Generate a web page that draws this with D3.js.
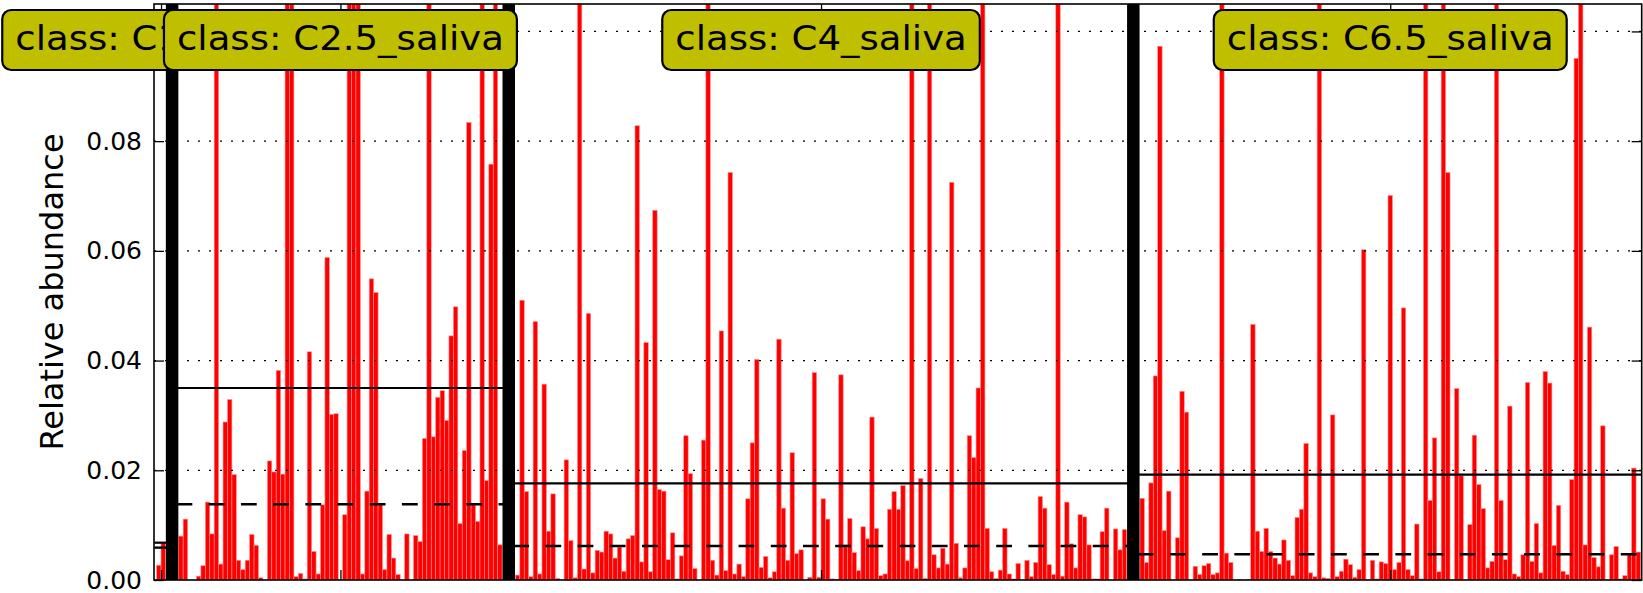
<!DOCTYPE html>
<html><head><meta charset="utf-8">
<script src="https://cdn.jsdelivr.net/npm/d3@7"></script>
<style>body{margin:0;background:#fff}svg{display:block}</style>
</head><body>
<svg id="chart" width="1643" height="593"></svg>
<script>
// ---------------- data ----------------
const classNames = ["C1_saliva", "C2.5_saliva", "C4_saliva", "C6.5_saliva"];
const T = 0.13; // bars that run off the top of the axes (value not readable)
const valuesC1 = [0.0027, 0.0067];
const valuesC25 = [0.0080,0.0111,0,0,0.0007,0.0026,0.0142,0.0084,T,0.0029,
  0.0288,0.0329,0.0192,0.0036,0.0019,0.0036,0.0083,0.0063,0.0004,0,
  0.0217,0.0197,0.0382,0.0193,T,T,0.0006,0.0012,0.0002,0.0416,
  0.0052,0.0011,0.0137,0.0588,0.0302,0.0303,0,0.0119,T,T,
  T,0.0011,0.0162,0.0549,0.0524,0.0137,0.0019,0.0083,0.0040,0.0010,
  0,0.0084,0,0.0081,0.0070,0.0258,T,0.0261,0.0333,0.0345,
  0.0291,0.0445,0.0498,0.0103,0.0236,0.0834,0.0137,0.0107,T,0.0181,
  0.0758,T,0.0064];
const valuesC4 = [0.0009,0.0510,0.0161,0.0006,0.0471,0.0011,0.0357,0.0089,0.0157,0.0003,
  0,0.0219,0.0072,0.0004,T,0.0020,0.0486,0.0013,0.0054,0.0051,
  0.0089,0.0084,0.0040,0.0060,0.0016,0.0075,0.0081,0.0828,0.0033,0.0433,
  0.0015,0.0674,0.0165,0.0162,0.0037,0.0086,0.0002,0.0044,0.0263,0.0194,
  0.0021,0,0.0255,T,0.0036,0.0009,0.0454,0.0017,0.0743,0.0011,
  0.0029,0.0006,0.0148,0.0250,0.0402,0.0023,0.0043,0.0004,0.0015,0.0439,
  0.0131,0.0036,0.0232,0.0048,0.0055,0,0.0005,0.0378,0.0005,0.0148,
  0.0111,0.0002,0.0001,0.0374,0.0064,0.0112,0.0050,0.0017,0.0097,0.0075,
  0.0297,0.0094,0.0008,0.0011,0.0129,0.0161,0.0129,0.0172,0.0035,T,
  0.0021,0.0185,0.0003,T,0.0046,0.0022,0.0058,0.0029,0.0725,0.0067,
  0.0004,0.0022,0.0263,0.0223,0.0350,T,0.0094,0.0015,0.0003,0.0018,
  0.0094,0.0011,0.0002,0.0030,0,0.0036,0.0006,0.0032,0.0152,0.0131,
  0.0028,0.0010,T,0.0007,0.0142,0.0066,0.0022,0.0119,0.0115,0.0064,
  0.0002,0.0002,0.0088,0.0131,0,0.0093,0.0055,0.0092];
const valuesC65 = [0.0149,0.0032,0.0177,0.0372,0.0973,0.0090,0.0162,0,0.0077,0.0344,
  0.0306,0,0.0025,0.0010,0.0026,0.0030,0.0010,0.0013,T,0.0049,
  0.0032,0,0.0001,0,0.0001,0.0466,0.0089,0.0052,0.0094,0.0052,
  0.0040,0.0029,0.0073,0.0036,0.0008,0.0114,0.0129,0.0249,0.0013,0.0006,
  T,0.0004,0.0003,0.0301,0.0006,0.0016,0.0038,0.0028,0.0005,0.0019,
  0.0602,0,0.0036,0.0002,0.0033,0.0030,0.0701,0.0019,0.0032,0.0496,
  0.0019,0.0008,0.0102,0.0002,T,0.0145,0.0259,0.0015,T,0.0743,
  0,0.0349,0.0190,0,0.0101,0.0264,0.0174,0.0130,0.0022,0.0034,
  T,0.0145,0.0037,0.0317,0.0011,0.0006,0.0046,0.0360,0.0034,0.0103,
  0.0013,0.0380,0.0359,0.0063,0.0136,0.0016,0.0010,0.0183,0.0951,T,
  0.0064,0.0461,0.0041,0.0024,0.0281,0,0.0046,0.0061,0.0002,0.0008,
  0.0046,0.0204,0.0051];
const classMeans   = [0.0068, 0.0350, 0.0176, 0.0192];
const classMedians = [0.0059, 0.0138, 0.0062, 0.0047];
const yTicks = [0, 0.02, 0.04, 0.06, 0.08, 0.10];
const yTickLabels = ["0.00", "0.02", "0.04", "0.06", "0.08", "0.10"];
const yLabel = "Relative abundance";
const classPrefix = "class: ";

// ---------------- layout ----------------
const series = [valuesC1, valuesC25, valuesC4, valuesC65];
const plot = {left: 154, right: 1641.7, top: 4, bottom: 580};
const GAP = 3;
const bars = [], spans = [];
let slot = 0;
series.forEach((vals, k) => {
  const start = slot;
  vals.forEach((v, i) => bars.push({cls: k, pos: slot + i, v}));
  slot += vals.length;
  spans.push({start, end: slot});
  slot += GAP;
});
const x = d3.scaleLinear().domain([-0.587, 335.27]).range([plot.left, plot.right]);
const y = d3.scaleLinear().domain([0, 0.105]).range([plot.bottom, plot.top]);
const centers = spans.map(s => x((s.start + s.end) / 2));

const svg = d3.select("#chart");
const FONT = "'DejaVu Sans', sans-serif";
svg.append("defs").append("clipPath").attr("id", "clip")
  .append("rect").attr("x", plot.left).attr("y", plot.top)
  .attr("width", plot.right - plot.left).attr("height", plot.bottom - plot.top);

const gPlot = svg.append("g").attr("clip-path", "url(#clip)");

// bars
gPlot.append("g").selectAll("rect").data(bars).join("rect")
  .attr("x", d => x(d.pos))
  .attr("width", d => x(d.pos + 1) - x(d.pos))
  .attr("y", d => y(d.v))
  .attr("height", d => y(0) - y(d.v))
  .attr("fill", "#ff0000")
  .attr("stroke", "#ff9090").attr("stroke-width", 0.6);

// grid (drawn above bars, classic style)
gPlot.append("g").selectAll("line").data(yTicks.filter(t => t > 0)).join("line")
  .attr("x1", plot.left).attr("x2", plot.right)
  .attr("y1", d => y(d)).attr("y2", d => y(d))
  .attr("stroke", "#000").attr("stroke-width", 1.2)
  .attr("stroke-dasharray", "2,9");

// mean (solid) and median (dashed) lines
gPlot.append("g").selectAll("line").data(spans).join("line")
  .attr("x1", d => x(d.start - 0.5)).attr("x2", d => x(d.end + 0.5))
  .attr("y1", (d, i) => y(classMeans[i])).attr("y2", (d, i) => y(classMeans[i]))
  .attr("stroke", "#000").attr("stroke-width", 2.2);
gPlot.append("g").selectAll("line").data(spans).join("line")
  .attr("x1", d => x(d.start - 0.5)).attr("x2", d => x(d.end + 0.5))
  .attr("y1", (d, i) => y(classMedians[i])).attr("y2", (d, i) => y(classMedians[i]))
  .attr("stroke", "#000").attr("stroke-width", 2.4)
  .attr("stroke-dasharray", "15.8,16.4");

// class separators
gPlot.append("g").selectAll("line").data(spans.slice(0, -1)).join("line")
  .attr("x1", d => x(d.end + GAP / 2)).attr("x2", d => x(d.end + GAP / 2))
  .attr("y1", plot.top).attr("y2", plot.bottom)
  .attr("stroke", "#000").attr("stroke-width", 12.5);

// axes (ticks inward on all four sides)
const yAxisL = d3.axisLeft(y).tickValues(yTicks).tickFormat((d, i) => yTickLabels[i])
  .tickSizeInner(-10).tickSizeOuter(0).tickPadding(12);
const gL = svg.append("g").attr("transform", `translate(${plot.left},0)`).call(yAxisL);
const yAxisR = d3.axisRight(y).tickValues(yTicks).tickFormat("").tickSizeInner(-10).tickSizeOuter(0);
const gR = svg.append("g").attr("transform", `translate(${plot.right},0)`).call(yAxisR);
const xAxisB = d3.axisBottom(x).tickValues(spans.map(s => (s.start + s.end) / 2)).tickFormat("")
  .tickSizeInner(-10).tickSizeOuter(0);
const gB = svg.append("g").attr("transform", `translate(0,${plot.bottom})`).call(xAxisB);
const xAxisT = d3.axisTop(x).tickValues(spans.map(s => (s.start + s.end) / 2)).tickFormat("")
  .tickSizeInner(-10).tickSizeOuter(0);
const gT = svg.append("g").attr("transform", `translate(0,${plot.top})`).call(xAxisT);
[gL, gR, gB, gT].forEach(g => {
  g.select(".domain").remove();
  g.selectAll(".tick line").attr("stroke", "#000").attr("stroke-width", 1.3);
});
gL.selectAll(".tick text").attr("font-family", FONT).attr("font-size", 25).attr("fill", "#000");

// spines
svg.append("rect").attr("x", plot.left).attr("y", plot.top)
  .attr("width", plot.right - plot.left).attr("height", plot.bottom - plot.top)
  .attr("fill", "none").attr("stroke", "#000").attr("stroke-width", 1.6);

// y label
svg.append("text")
  .attr("transform", `translate(52,${(plot.top + plot.bottom) / 2}) rotate(-90)`)
  .attr("text-anchor", "middle").attr("dominant-baseline", "central")
  .attr("font-family", FONT).attr("font-size", 32).attr("fill", "#000")
  .text(yLabel);

// class label boxes
const SX = 1.075; // horizontal stretch of the label text
const gLab = svg.append("g");
classNames.forEach((name, i) => {
  const g = gLab.append("g").attr("transform", `translate(${centers[i]},0)`);
  const rect = g.append("rect");
  const txt = g.append("text")
    .attr("transform", `translate(0,50) scale(${SX},1)`)
    .attr("text-anchor", "middle")
    .attr("font-family", FONT).attr("font-size", 34.5).attr("fill", "#000")
    .text(classPrefix + name);
  const bb = txt.node().getBBox();
  const w = bb.width * SX;
  const padX = 13;
  rect.attr("x", -w / 2 - padX).attr("y", 10)
    .attr("width", w + 2 * padX).attr("height", 60)
    .attr("rx", 9).attr("ry", 9)
    .attr("fill", "#bfbf00").attr("stroke", "#000").attr("stroke-width", 2.2);
});
</script>
</body></html>
